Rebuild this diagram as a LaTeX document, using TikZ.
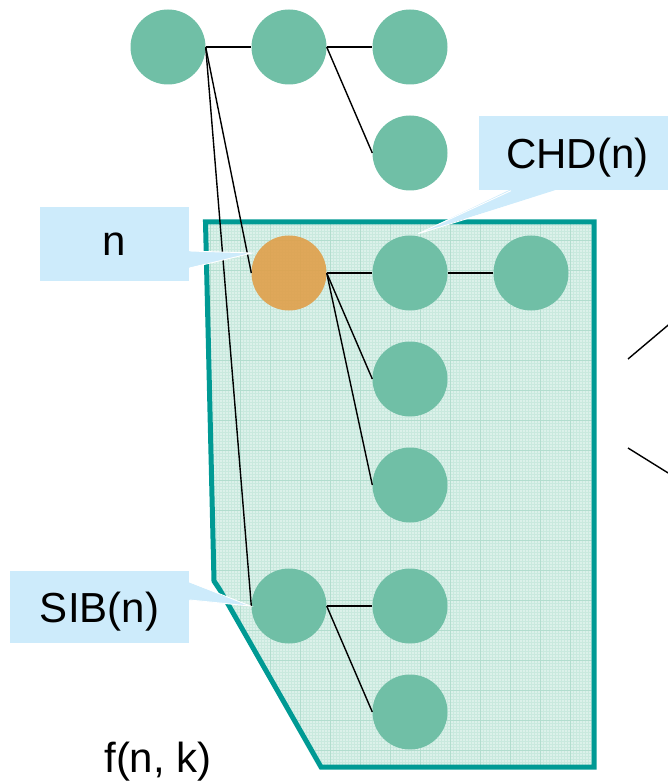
\documentclass[tikz,border=0pt]{standalone}
\usepackage{fontspec}
\setmainfont{Liberation Sans}
\usetikzlibrary{calc}
\definecolor{nodegreen}{HTML}{70BFA6}
\definecolor{nodeorange}{HTML}{E09F4A}
\definecolor{frameteal}{HTML}{009A94}
\definecolor{regionfill}{HTML}{DCF1EA}
\definecolor{gridfine}{HTML}{C9E9DE}
\definecolor{gridmajor}{HTML}{B2DDCE}
\definecolor{calloutblue}{HTML}{CDEBFB}
\begin{document}
\begin{tikzpicture}[x=1pt,y=-1pt,
  treenode/.style={circle,fill=nodegreen,minimum size=75pt,inner sep=0pt},
  edge/.style={black,line width=1.4pt},
  bigtext/.style={font=\fontsize{42}{50}\selectfont,text depth=0pt},
  callout/.style={bigtext,fill=calloutblue,inner sep=0pt},
  pointer/.style={fill=calloutblue},
  pointeredge/.style={draw=white,line width=0.9pt}]
\useasboundingbox (0,0) rectangle (668,783);
\clip (0,0) rectangle (668,783);
% region f(n,k)
\coordinate (r1) at (205.5,222);
\coordinate (r2) at (594,222);
\coordinate (r3) at (594,767);
\coordinate (r4) at (321,767);
\coordinate (r5) at (220,590);
\coordinate (r6) at (214,581);
\begin{scope}
  \clip (r1) -- (r2) -- (r3) -- (r4) -- (r5) -- (r6) -- cycle;
  \fill[regionfill] (0,0) rectangle (668,783);
  \draw[gridfine,line width=0.3pt] (198,214) grid[xstep=3pt,ystep=3pt] (600,772);
  \draw[gridmajor,line width=0.6pt] (198,214) grid[xstep=30pt,ystep=30pt] (600,772);
\end{scope}
\draw[frameteal,line width=5pt,line join=miter] (r1) -- (r2) -- (r3) -- (r4) -- (r5) -- (r6) -- cycle;
% tree nodes
\node[treenode] (t1) at (168,47) {};
\node[treenode] (t2) at (289,47) {};
\node[treenode] (t3) at (410,47) {};
\node[treenode] (t4) at (410,153) {};
\node[treenode,fill=nodeorange,fill opacity=0.9] (cur) at (289,273) {};
\node[treenode] (chd) at (410,273) {};
\node[treenode] (c3) at (531,273) {};
\node[treenode] (c4) at (410,379) {};
\node[treenode] (c5) at (410,485) {};
\node[treenode] (sib) at (289,606) {};
\node[treenode] (s2) at (410,606) {};
\node[treenode] (s3) at (410,712) {};
% connectors
\draw[edge] (t1.east) -- (t2.west);
\draw[edge] (t2.east) -- (t3.west);
\draw[edge] (t2.east) -- (t4.west);
\draw[edge] (t1.east) -- (cur.west);
\draw[edge] (t1.east) -- (sib.west);
\draw[edge] (cur.east) -- (chd.west);
\draw[edge] (chd.east) -- (c3.west);
\draw[edge] (cur.east) -- (c4.west);
\draw[edge] (cur.east) -- (c5.west);
\draw[edge] (sib.east) -- (s2.west);
\draw[edge] (sib.east) -- (s3.west);
% lines leaving on the right
\coordinate (e1a) at (628,359);
\coordinate (e1b) at (673,321);
\coordinate (e2a) at (628,448);
\coordinate (e2b) at (673,476);
\draw[edge] (e1a) -- (e1b);
\draw[edge] (e2a) -- (e2b);
% callouts
\node[callout,minimum width=149pt,minimum height=73pt] (nbox) at (114.5,244) {n};
\coordinate (ntip) at ($(cur.west)+(1,-20)$);
\fill[pointer] ($(nbox.east)+(-1,7)$) -- (ntip) -- ($(nbox.east)+(-1,24)$) -- cycle;
\draw[pointeredge] ($(nbox.east)+(0.5,7)$) -- (ntip) -- ($(nbox.east)+(0.5,24)$);

\node[callout,minimum width=197pt,minimum height=74pt] (chdbox) at (577.5,153) {CHD(n)};
\coordinate (chdtip) at ($(chd.north)+(8,-1.5)$);
\fill[pointer] ($(chdbox.south)+(-66.5,-1)$) -- (chdtip) -- ($(chdbox.south)+(-19.5,-1)$) -- cycle;
\draw[pointeredge] ($(chdbox.south)+(-66.5,0.5)$) -- (chdtip) -- ($(chdbox.south)+(-19.5,0.5)$);

\node[callout,minimum width=179pt,minimum height=72pt] (sibbox) at (99.5,607) {SIB(n)};
\coordinate (sibtip) at ($(sib.west)+(-1,0)$);
\fill[pointer] ($(sibbox.east)+(-1,-25)$) -- (sibtip) -- ($(sibbox.east)+(-1,-7)$) -- cycle;
\draw[pointeredge] ($(sibbox.east)+(0.5,-25)$) -- (sibtip) -- ($(sibbox.east)+(0.5,-7)$);

\node[bigtext,inner sep=0pt] (flabel) at (158,757) {f(n, k)};
\end{tikzpicture}
\end{document}
